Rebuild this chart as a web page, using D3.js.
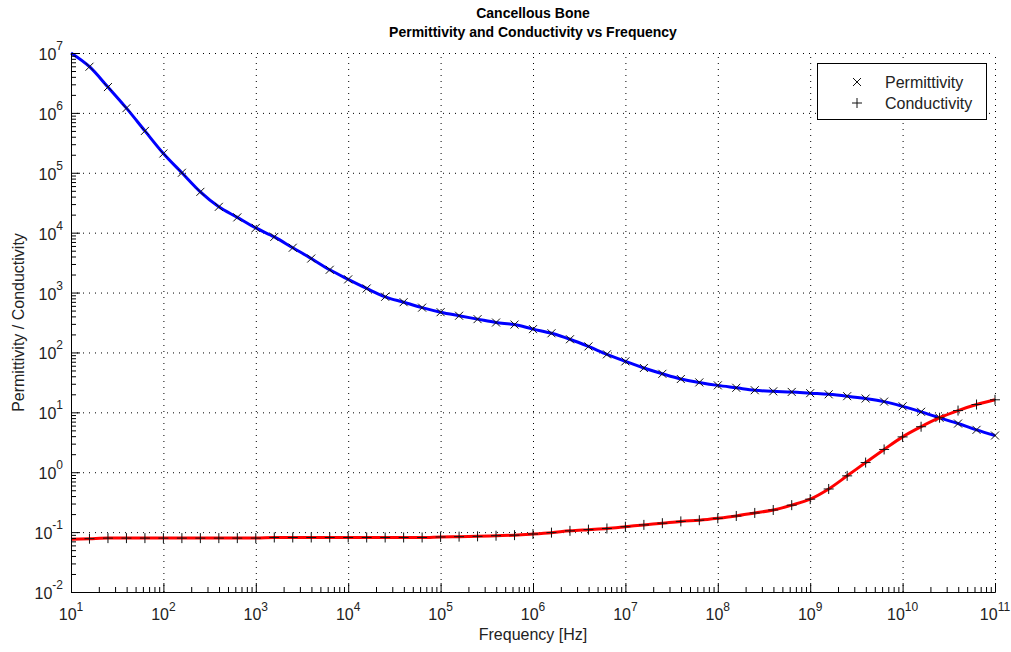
<!DOCTYPE html>
<html>
<head>
<meta charset="utf-8">
<script src="https://cdn.jsdelivr.net/npm/d3@7"></script>
<style>
body { margin: 0; background: #fff; }
svg { display: block; font-family: "Liberation Sans", Arial, sans-serif; }
.grid line { stroke: #000; stroke-dasharray: 1,5; stroke-width: 1; }
.grid .domain { display: none; }
.axis .domain, .axis line { stroke: #000; stroke-width: 1; }
</style>
</head>
<body>
<div id="viz"></div>
<script>
// frequency in Hz, 0.2 decade steps
let freq = [
  1e1, 1.585e1, 2.512e1, 3.981e1, 6.310e1,
  1e2, 1.585e2, 2.512e2, 3.981e2, 6.310e2,
  1e3, 1.585e3, 2.512e3, 3.981e3, 6.310e3,
  1e4, 1.585e4, 2.512e4, 3.981e4, 6.310e4,
  1e5, 1.585e5, 2.512e5, 3.981e5, 6.310e5,
  1e6, 1.585e6, 2.512e6, 3.981e6, 6.310e6,
  1e7, 1.585e7, 2.512e7, 3.981e7, 6.310e7,
  1e8, 1.585e8, 2.512e8, 3.981e8, 6.310e8,
  1e9, 1.585e9, 2.512e9, 3.981e9, 6.310e9,
  1e10, 1.585e10, 2.512e10, 3.981e10, 6.310e10,
  1e11
];

let permittivity = [
  1.0e7, 5.9e6, 2.7e6, 1.2e6, 5.0e5,
  2.1e5, 1.0e5, 4.8e4, 2.7e4, 1.8e4,
  1.2e4, 8.5e3, 5.6e3, 3.7e3, 2.4e3,
  1660, 1170, 850, 690, 560,
  470, 410, 360, 316, 292,
  245, 209, 166, 126, 93,
  71, 55, 44, 36, 31.6,
  28.2, 25.7, 23.4, 22.4, 21.9,
  20.9, 20.0, 18.6, 17.0, 15.1,
  12.6, 10.2, 8.1, 6.5, 5.1,
  4.1
];

let conductivity = [
  0.076, 0.0776, 0.0794, 0.0794, 0.0794,
  0.0794, 0.0794, 0.0794, 0.0794, 0.0794,
  0.0794, 0.0813, 0.0813, 0.0813, 0.0813,
  0.0813, 0.0813, 0.0813, 0.0813, 0.0813,
  0.083, 0.084, 0.085, 0.087, 0.089,
  0.093, 0.098, 0.105, 0.110, 0.115,
  0.123, 0.132, 0.141, 0.151, 0.158,
  0.170, 0.186, 0.209, 0.234, 0.282,
  0.355, 0.525, 0.87, 1.45, 2.40,
  3.89, 5.75, 8.13, 10.7, 13.5,
  16.2
];

let xTickExp = [1, 2, 3, 4, 5, 6, 7, 8, 9, 10, 11];
let yTickExp = [-2, -1, 0, 1, 2, 3, 4, 5, 6, 7];
let legendNames = ["Permittivity", "Conductivity"];

var width = 1011, height = 652;
var pL = 71, pR = 995, pT = 53, pB = 592;

var x = d3.scaleLog().domain([1e1, 1e11]).range([pL, pR]);
var y = d3.scaleLog().domain([1e-2, 1e7]).range([pB, pT]);

var xMajor = xTickExp.map(e => Math.pow(10, e));
var yMajor = yTickExp.map(e => Math.pow(10, e));
var minorOf = (majors) => {
  let m = [];
  majors.slice(0, -1).forEach(v => { for (let k = 2; k < 10; k++) m.push(v * k); });
  return m;
};

var svg = d3.select("#viz").append("svg")
  .attr("width", width)
  .attr("height", height);

// grid
svg.append("g").attr("class", "grid")
  .attr("transform", "translate(0," + pB + ")")
  .call(d3.axisBottom(x).tickValues(xMajor).tickSize(-(pB - pT)).tickFormat(""));
svg.append("g").attr("class", "grid")
  .attr("transform", "translate(" + pL + ",0)")
  .call(d3.axisLeft(y).tickValues(yMajor).tickSize(-(pR - pL)).tickFormat(""));

// lines
var series = [
  {name: "Permittivity", values: permittivity, color: "#0000ff", mark: "x"},
  {name: "Conductivity", values: conductivity, color: "#ff0000", mark: "+"}
];

var line = d3.line()
  .x(d => x(d[0]))
  .y(d => y(d[1]))
  .curve(d3.curveMonotoneX);

var markPath = (m, s) => m == "x"
  ? "M" + (-s) + "," + (-s) + "L" + s + "," + s + "M" + (-s) + "," + s + "L" + s + "," + (-s)
  : "M" + (-s) + ",0L" + s + ",0M0," + (-s) + "L0," + s;

series.forEach(s => {
  let pts = freq.map((f, i) => [f, s.values[i]]);
  svg.append("path")
    .datum(pts)
    .attr("d", line)
    .attr("fill", "none")
    .attr("stroke", s.color)
    .attr("stroke-width", 3);
  svg.append("g").selectAll("path")
    .data(pts.slice(1))
    .enter()
    .append("path")
    .attr("transform", d => "translate(" + x(d[0]) + "," + y(d[1]) + ")")
    .attr("d", markPath(s.mark, s.mark == "x" ? 4 : 5))
    .attr("stroke", "#111")
    .attr("stroke-width", 1)
    .attr("fill", "none");
});

// axes
svg.append("g").attr("class", "axis")
  .attr("transform", "translate(0," + pB + ")")
  .call(d3.axisBottom(x).tickValues(xMajor).tickSizeInner(-9).tickSizeOuter(0).tickFormat(""));
svg.append("g").attr("class", "axis")
  .attr("transform", "translate(0," + pB + ")")
  .call(d3.axisBottom(x).tickValues(minorOf(xMajor)).tickSizeInner(-5).tickSizeOuter(0).tickFormat(""));
svg.append("g").attr("class", "axis")
  .attr("transform", "translate(" + pL + ",0)")
  .call(d3.axisLeft(y).tickValues(yMajor).tickSizeInner(-9).tickSizeOuter(0).tickFormat(""));
svg.append("g").attr("class", "axis")
  .attr("transform", "translate(" + pL + ",0)")
  .call(d3.axisLeft(y).tickValues(minorOf(yMajor)).tickSizeInner(-5).tickSizeOuter(0).tickFormat(""));

// tick labels
var xl = svg.append("g").selectAll("text")
  .data(xTickExp)
  .enter()
  .append("text")
  .attr("x", d => x(Math.pow(10, d)))
  .attr("y", 620)
  .attr("text-anchor", "middle")
  .attr("font-size", 16)
  .attr("fill", "#222")
  .text("10");
xl.append("tspan").attr("dy", -9).attr("font-size", 12).text(d => d);

var yl = svg.append("g").selectAll("text")
  .data(yTickExp)
  .enter()
  .append("text")
  .attr("x", 63)
  .attr("y", d => y(Math.pow(10, d)) + 7)
  .attr("text-anchor", "end")
  .attr("font-size", 16)
  .attr("fill", "#222")
  .text("10");
yl.append("tspan").attr("dy", -10).attr("font-size", 12).text(d => d);

// titles
svg.append("text")
  .attr("x", (pL + pR) / 2).attr("y", 18)
  .attr("text-anchor", "middle")
  .attr("font-size", 14).attr("font-weight", "bold")
  .text("Cancellous Bone");
svg.append("text")
  .attr("x", (pL + pR) / 2).attr("y", 37)
  .attr("text-anchor", "middle")
  .attr("font-size", 14).attr("font-weight", "bold")
  .text("Permittivity and Conductivity vs Frequency");
svg.append("text")
  .attr("x", (pL + pR) / 2).attr("y", 640)
  .attr("text-anchor", "middle")
  .attr("font-size", 16).attr("fill", "#222")
  .text("Frequency [Hz]");
svg.append("text")
  .attr("transform", "translate(24," + ((pT + pB) / 2) + ") rotate(-90)")
  .attr("text-anchor", "middle")
  .attr("font-size", 16).attr("fill", "#222")
  .text("Permittivity / Conductivity");

// legend
var lg = svg.append("g");
lg.append("rect")
  .attr("x", 817.5).attr("y", 63.5)
  .attr("width", 169).attr("height", 56)
  .attr("fill", "#fff").attr("stroke", "#000");
legendNames.forEach((n, i) => {
  lg.append("path")
    .attr("transform", "translate(857," + (82 + i * 21) + ")")
    .attr("d", markPath(series[i].mark, series[i].mark == "x" ? 4 : 5))
    .attr("stroke", "#111").attr("fill", "none");
  lg.append("text")
    .attr("x", 885).attr("y", 88 + i * 21)
    .attr("font-size", 16).attr("fill", "#222")
    .text(n);
});
</script>
</body>
</html>
